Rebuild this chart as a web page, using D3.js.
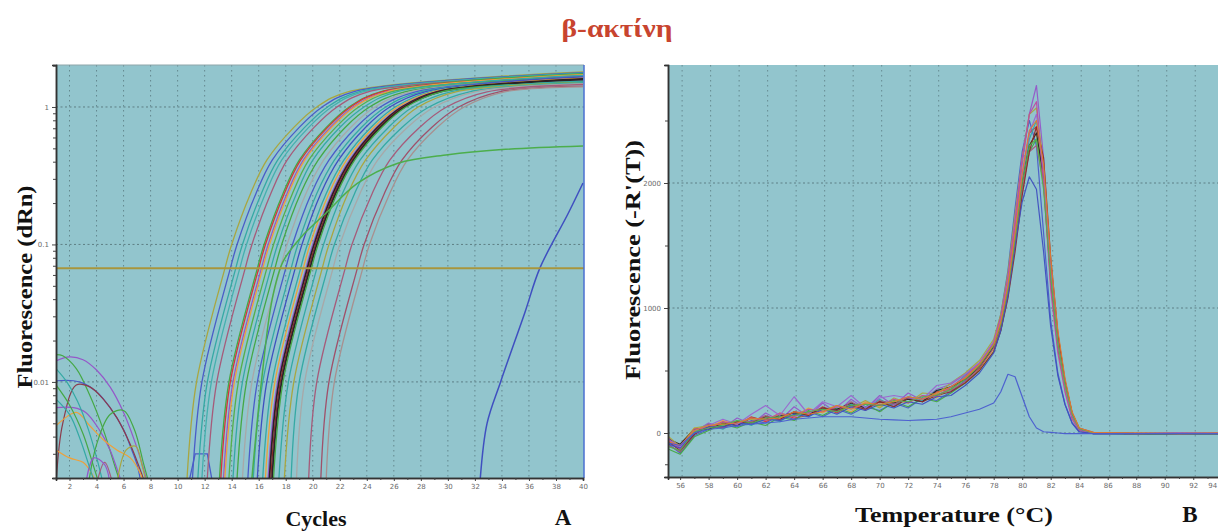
<!DOCTYPE html>
<html>
<head>
<meta charset="utf-8">
<script src="https://cdn.jsdelivr.net/npm/d3@7"></script>
<style>
body { margin: 0; background: #fff; }
.tick text { font-family: "DejaVu Sans", sans-serif; font-size: 7px; fill: #6a6a6a; }
.lab { font-family: "Liberation Serif", serif; font-weight: bold; fill: #111; }
</style>
</head>
<body>
<svg id="chart"></svg>
<script>
const W = 1218, H = 532,
  plotBg = "#92c5cd",
  gridColor = "#55747a";

// ---- panel A : amplification plot ----
const cycleTicks = [2,4,6,8,10,12,14,16,18,20,22,24,26,28,30,32,34,36,38,40];
const cycleMinor = [3,5,7,9,11,13,15,17,19,21,23,25,27,29,31,33,35,37,39];
const dRnTicks = [0.01, 0.1, 1];
const threshold = 0.067;

// fluorescence levels, and the cycle at which each curve reaches them
const ampLevels = [0.002, 0.01, 0.067, 0.1, 0.235, 0.41, 0.71, 1.0, 1.29];
const ampCycles = [
  [10.7, 11.4, 13.5, 14.0, 15.4, 16.6, 18.6, 20.3, 22.6],
  [11.1, 11.8, 13.9, 14.4, 15.8, 17.0, 19.0, 20.7, 23.0],
  [11.5, 12.2, 14.3, 14.8, 16.2, 17.4, 19.4, 21.1, 23.4],
  [11.8, 12.5, 14.6, 15.1, 16.5, 17.7, 19.7, 21.4, 23.7],
  [12.2, 12.9, 15.0, 15.5, 16.9, 18.1, 20.1, 21.8, 24.1],
  [13.1, 13.8, 15.9, 16.4, 17.8, 19.0, 21.0, 22.7, 25.0],
  [13.2, 13.9, 16.0, 16.5, 17.9, 19.1, 21.1, 22.8, 25.1],
  [13.4, 14.1, 16.2, 16.7, 18.1, 19.3, 21.3, 23.0, 25.4],
  [13.5, 14.2, 16.3, 16.8, 18.2, 19.4, 21.4, 23.1, 25.5],
  [13.8, 14.5, 16.6, 17.1, 18.5, 19.7, 21.7, 23.4, 25.8],
  [14.1, 14.8, 16.9, 17.4, 18.8, 20.0, 22.0, 23.8, 26.2],
  [14.4, 15.1, 17.2, 17.7, 19.1, 20.4, 22.4, 24.2, 26.8],
  [14.8, 15.5, 17.6, 18.1, 19.5, 20.8, 22.8, 24.6, 27.2],
  [15.2, 15.9, 18.0, 18.5, 19.9, 21.2, 23.2, 25.0, 27.6],
  [15.6, 16.3, 18.4, 18.9, 20.3, 21.6, 23.6, 25.4, 28.0],
  [15.9, 16.6, 18.7, 19.2, 20.6, 21.9, 23.9, 25.7, 28.3],
  [16.3, 17.0, 19.1, 19.6, 21.0, 22.3, 24.3, 26.1, 28.7],
  [16.5, 17.2, 19.3, 19.8, 21.2, 22.5, 24.5, 26.3, 28.9],
  [16.7, 17.4, 19.5, 20.0, 21.4, 22.7, 24.7, 26.5, 29.1],
  [16.8, 17.5, 19.6, 20.1, 21.5, 22.8, 24.8, 26.6, 29.2],
  [16.9, 17.6, 19.7, 20.2, 21.6, 22.9, 24.9, 26.7, 29.3],
  [17.0, 17.7, 19.8, 20.3, 21.7, 23.0, 25.0, 26.8, 29.4],
  [17.1, 17.8, 19.9, 20.4, 21.8, 23.1, 25.1, 26.9, 29.5],
  [17.5, 18.2, 20.3, 20.8, 22.2, 23.5, 25.6, 27.4, 30.2],
  [17.9, 18.6, 20.7, 21.2, 22.6, 23.9, 26.0, 27.8, 30.6],
  [18.4, 19.0, 21.1, 21.6, 23.1, 24.4, 26.6, 28.6, 31.6],
  [18.8, 19.4, 21.5, 22.0, 23.5, 24.8, 27.0, 29.0, 32.0],
  [19.7, 20.3, 22.4, 22.9, 24.4, 25.7, 27.9, 29.9, 32.9],
  [20.6, 21.2, 23.3, 23.8, 25.3, 26.6, 28.8, 30.8, 33.8],
  [21.0, 21.6, 23.7, 24.2, 25.7, 27.0, 29.2, 31.2, 34.2]
];
const ampEnd = [1.80, 1.78, 1.76, 1.74, 1.72, 1.75, 1.70, 1.68, 1.72, 1.66,
  1.70, 1.65, 1.62, 1.66, 1.60, 1.64, 1.58, 1.62, 1.56, 1.60,
  1.55, 1.58, 1.52, 1.54, 1.50, 1.50, 1.48, 1.46, 1.42, 1.40];
const ampColors = ["#a9a640", "#4a5cc8", "#35a9a4", "#45b0ae", "#a65b7a", "#45a845", "#d8333a", "#9557c9", "#eea13a", "#55b04a",
  "#35a9a4", "#45a845", "#a8a8a8", "#4a5cc8", "#35a9a4", "#3f4fc0", "#35a9a4", "#eea13a", "#9557c9", "#2b2226",
  "#8c2b2b", "#2b2226", "#45a845", "#35a9a4", "#a9a640", "#35a9a4", "#a8a8a8", "#a65b7a", "#a0506a", "#a89090"];

// odd curves: a weak one that plateaus low and a very late one
const ampWeak = [[15.5,0.002],[16.2,0.01],[17.0,0.04],[17.8,0.075],[19.1,0.112],[21,0.17],[23.3,0.278],[26.3,0.39],[30,0.45],[34,0.49],[40,0.52]];
const ampLate = [[32.4,0.002],[32.9,0.005],[33.9,0.01],[35.7,0.032],[36.8,0.067],[38.9,0.168],[40,0.28]];
const ampBump = [[10.8,0.0018],[11.3,0.003],[12.2,0.003],[12.6,0.0018]];

// early-cycle noise traces
const noiseA = [
  [[1,0.0142],[2,0.0152],[3,0.0145],[4,0.0122],[5,0.0092],[6,0.006],[7,0.0033],[7.8,0.0018]],
  [[1,0.0158],[1.5,0.0155],[2.5,0.0125],[3.5,0.008],[4.5,0.0045],[5.5,0.0022],[5.8,0.0018]],
  [[1,0.0102],[2.3,0.0102],[3,0.0098],[4,0.0085],[5,0.0065],[6,0.0045],[6.5,0.0034],[7,0.0025],[7.3,0.0018]],
  [[1,0.0018],[1.5,0.005],[2.5,0.0095],[3.5,0.0092],[4.5,0.0075],[5.5,0.0055],[6.5,0.0035],[7.3,0.0022],[7.6,0.0018]],
  [[1,0.0065],[2.3,0.0065],[3.2,0.006],[4.2,0.0045],[5,0.0032],[5.6,0.0022],[5.9,0.0018]],
  [[1,0.0048],[2.5,0.006],[3.5,0.0048],[4.5,0.0038],[5.5,0.0032],[6.5,0.0028],[7.2,0.0022],[7.5,0.0018]],
  [[1,0.0125],[1.8,0.01],[2.6,0.0072],[3.4,0.0045],[4.1,0.0026],[4.5,0.0018]],
  [[1,0.0095],[2,0.0068],[3,0.0042],[3.8,0.0024],[4.2,0.0018]],
  [[3.4,0.0018],[4,0.0035],[5,0.0058],[6,0.0062],[6.8,0.0045],[7.5,0.0025],[7.9,0.0018]],
  [[1,0.0032],[2,0.0028],[3,0.0026],[3.6,0.0022],[4,0.0018]],
  [[4,0.0018],[4.6,0.0026],[5.2,0.0018]],
  [[3.2,0.0018],[3.8,0.0028],[4.6,0.0025],[5,0.0018]],
  [[1,0.0075],[2,0.0058],[2.8,0.0038],[3.6,0.0022],[3.9,0.0018]],
  [[5.5,0.0018],[6.2,0.0032],[6.9,0.0034],[7.4,0.0024],[7.7,0.0018]]
];
const noiseColors = ["#9557c9", "#45a845", "#4a5cc8", "#8c3b4b", "#9557c9", "#eea13a", "#35a9a4", "#45a845",
  "#45a845", "#eea13a", "#a65b7a", "#9557c9", "#35a9a4", "#a9a640"];

// ---- panel B : melt curves ----
const tempTicks = [56,58,60,62,64,66,68,70,72,74,76,78,80,82,84,86,88,90,92,94];
const tempMinor = [57,59,61,63,65,67,69,71,73,75,77,79,81,83,85,87,89,91,93];
const derivTicks = [0, 1000, 2000];
const derivMinor = [-250, 500, 1500, 2500];

const temps = [55.2,56,57,58,59,60,61,62,63,64,65,66,67,68,69,70,71,72,73,74,75,76,77,78,78.5,79,79.5,80,80.5,81,81.5,82,82.5,83,83.5,84,85,88,91,95];
const melt = [
  [-40,-120,10,80,40,120,70,160,100,210,130,240,160,270,190,300,220,320,260,350,390,470,560,720,900,1200,1650,2150,2550,2780,2200,1300,720,380,140,30,0,-5,0,-5],
  [-90,-160,-20,30,70,50,100,80,140,110,170,130,190,150,210,180,240,200,280,260,330,420,540,720,950,1300,1800,2250,2500,2300,1600,900,480,230,80,10,-5,-5,-5,-5],
  [-50,-110,30,50,90,60,130,90,150,120,140,210,160,230,190,250,210,280,250,330,350,440,530,700,880,1180,1600,2050,2400,2450,2000,1200,680,360,130,25,0,-5,0,-5],
  [-130,-170,-30,20,70,40,90,60,130,100,180,140,200,160,230,170,250,210,280,250,320,400,500,650,820,1100,1500,1950,2250,2350,2050,1300,750,400,150,35,0,-10,-5,-5],
  [-60,-100,40,40,100,70,120,100,160,130,200,160,220,170,250,210,260,240,300,280,370,430,510,670,840,1120,1500,1950,2300,2400,2150,1350,800,420,160,40,0,0,-5,0],
  [-80,-130,0,70,30,100,60,130,90,170,130,200,170,230,190,270,210,280,260,340,360,460,550,710,880,1150,1550,2000,2350,2500,2100,1250,700,370,130,25,0,-5,0,-5],
  [-50,-90,30,30,80,60,120,110,140,160,150,200,190,240,200,250,240,270,250,340,370,430,520,690,860,1150,1550,2000,2300,2400,2050,1250,700,380,140,30,-5,-5,-5,-5],
  [-100,-150,-10,70,40,90,90,140,100,170,160,200,170,250,180,260,230,290,270,310,340,410,520,680,850,1130,1520,1950,2250,2300,2000,1300,760,410,160,40,5,0,-5,0],
  [-30,-110,40,60,80,90,110,100,150,140,190,180,220,200,260,200,280,240,320,310,400,480,580,750,950,1280,1750,2200,2550,2600,2150,1250,700,360,120,20,0,-5,0,-5],
  [-70,-140,-10,50,50,90,80,130,110,170,140,200,180,220,190,250,210,280,250,300,330,400,500,650,820,1080,1450,1900,2250,2450,2200,1400,800,420,160,35,0,-5,-5,-5],
  [-60,-130,30,40,90,70,120,100,160,130,190,170,210,200,230,220,270,240,300,290,370,450,560,730,930,1250,1700,2200,2550,2650,2000,1150,640,330,110,20,0,-5,0,-5],
  [-90,-120,0,50,50,80,70,110,100,150,130,190,150,210,180,230,200,250,230,290,300,380,480,640,820,1100,1500,1850,2050,1950,1450,850,460,230,80,10,-5,-5,-5,-5],
  [-50,-110,20,60,110,70,150,220,140,290,150,250,210,300,200,280,300,280,270,380,400,470,560,730,900,1200,1600,2050,2400,2550,2100,1300,720,380,140,30,0,-5,0,-5],
  [-110,-140,10,40,60,100,80,120,130,140,170,190,170,220,230,220,260,250,290,300,350,430,540,700,870,1150,1550,2000,2300,2350,1950,1250,720,390,150,35,0,-5,-5,-5],
  [-70,-100,20,60,70,80,120,110,120,170,150,170,220,190,240,230,250,290,270,320,370,440,550,710,890,1180,1600,2080,2420,2500,2150,1400,820,440,170,40,5,0,-5,0],
  [-80,-100,0,30,40,60,70,80,90,110,120,130,130,130,120,110,105,100,105,110,130,160,190,240,330,470,450,290,130,40,10,5,0,-5,-5,-5,-5,-5,-5,-5]
];
const meltColors = ["#9557c9", "#4a5cc8", "#d8333a", "#45a845", "#eea13a", "#35a9a4", "#2b2226", "#a65b7a",
  "#a9a640", "#8c2b2b", "#c04aa0", "#3f4fc0", "#9a66d0", "#55b04a", "#e07a30", "#4a5cd0"];

// ---- scales ----
const xA = d3.scaleLinear().domain([1, 40]).range([56, 583]);
const yA = d3.scaleLog().domain([0.002, 2.02]).range([478, 65]);
const xB = d3.scaleLinear().domain([55.15, 95]).range([668, 1236]);
const yB = d3.scaleLinear().domain([-352, 2944]).range([477, 65]);

const svg = d3.select("#chart")
  .attr("width", W)
  .attr("height", H)
  .attr("viewBox", [0, 0, W, H]);

svg.append("rect").attr("width", W).attr("height", H).attr("fill", "#fff");

const defs = svg.append("defs");
defs.append("clipPath").attr("id", "clipA").append("rect")
  .attr("x", 56).attr("y", 65).attr("width", 528).attr("height", 413);
defs.append("clipPath").attr("id", "clipB").append("rect")
  .attr("x", 668).attr("y", 65).attr("width", W - 668).attr("height", 412);

// ---- panel A ----
const gA = svg.append("g");
gA.append("rect").attr("x", 56).attr("y", 65).attr("width", 528).attr("height", 413).attr("fill", plotBg);

gA.append("g").selectAll("line").data(cycleTicks.filter(d => d < 40)).join("line")
  .attr("x1", d => xA(d)).attr("x2", d => xA(d))
  .attr("y1", 65).attr("y2", 478)
  .attr("stroke", gridColor).attr("stroke-width", 1).attr("stroke-dasharray", "1.5,3.5").attr("opacity", 0.75);
gA.append("g").selectAll("line").data(dRnTicks).join("line")
  .attr("x1", 56).attr("x2", 584)
  .attr("y1", d => yA(d)).attr("y2", d => yA(d))
  .attr("stroke", gridColor).attr("stroke-width", 1).attr("stroke-dasharray", "2,2.5").attr("opacity", 0.85);

const lineA = d3.line().x(d => xA(d[0])).y(d => yA(Math.max(d[1], 0.0015))).curve(d3.curveCatmullRom.alpha(0.5));
const plotA = gA.append("g").attr("clip-path", "url(#clipA)");

plotA.selectAll("path.noise").data(noiseA).join("path")
  .attr("class", "noise")
  .attr("d", lineA)
  .attr("fill", "none")
  .attr("stroke", (d, i) => noiseColors[i])
  .attr("stroke-width", 1.2);

plotA.append("path").datum(ampBump).attr("d", d3.line().x(d => xA(d[0])).y(d => yA(d[1])))
  .attr("fill", "none").attr("stroke", "#4a5cc8").attr("stroke-width", 1.3);

const ampSeries = ampCycles.map((cs, i) => cs.map((c, j) => [c, ampLevels[j]]).concat([[40, ampEnd[i]]]));
plotA.selectAll("path.amp").data(ampSeries).join("path")
  .attr("class", "amp")
  .attr("d", lineA)
  .attr("fill", "none")
  .attr("stroke", (d, i) => ampColors[i])
  .attr("stroke-width", (d, i) => ampColors[i] === "#2b2226" ? 1.8 : 1.3);

plotA.append("path").datum(ampWeak).attr("d", lineA)
  .attr("fill", "none").attr("stroke", "#4cae4c").attr("stroke-width", 1.5);
plotA.append("path").datum(ampLate).attr("d", lineA)
  .attr("fill", "none").attr("stroke", "#3f4fc0").attr("stroke-width", 1.5);

plotA.append("line")
  .attr("x1", 56).attr("x2", 584)
  .attr("y1", yA(threshold)).attr("y2", yA(threshold))
  .attr("stroke", "#a8963c").attr("stroke-width", 2);

// frame
gA.append("line").attr("x1", 56).attr("x2", 584).attr("y1", 65).attr("y2", 65).attr("stroke", "#8fa6aa");
gA.append("line").attr("x1", 584).attr("x2", 584).attr("y1", 65).attr("y2", 478).attr("stroke", "#4a6fd0").attr("stroke-width", 1.5);

gA.append("g").attr("transform", "translate(0,478)")
  .call(d3.axisBottom(xA).tickValues(cycleTicks).tickSize(3).tickFormat(d3.format("d")));
gA.append("g").attr("transform", "translate(0,478)")
  .call(d3.axisBottom(xA).tickValues(cycleMinor).tickSize(2).tickFormat(""));
gA.append("g").attr("transform", "translate(56,0)")
  .call(d3.axisLeft(yA).tickValues(dRnTicks).tickSize(4).tickFormat(d => d >= 1 ? "1" : String(d)));
gA.append("g").attr("transform", "translate(56,0)")
  .call(d3.axisLeft(yA).tickValues(yA.ticks().filter(t => !dRnTicks.includes(t))).tickSize(3).tickFormat(""));

// ---- panel B ----
const gB = svg.append("g");
gB.append("rect").attr("x", 668).attr("y", 65).attr("width", W - 668).attr("height", 412).attr("fill", plotBg);

gB.append("g").selectAll("line").data(tempTicks).join("line")
  .attr("x1", d => xB(d) + 2).attr("x2", d => xB(d) + 2)
  .attr("y1", 65).attr("y2", 477)
  .attr("stroke", gridColor).attr("stroke-width", 1).attr("stroke-dasharray", "1.5,3.5").attr("opacity", 0.7);
gB.append("g").selectAll("line").data(derivTicks).join("line")
  .attr("x1", 668).attr("x2", W)
  .attr("y1", d => yB(d)).attr("y2", d => yB(d))
  .attr("stroke", gridColor).attr("stroke-width", 1).attr("stroke-dasharray", "2,2.5").attr("opacity", 0.85);

const lineB = d3.line().x((d, i) => xB(temps[i])).y(d => yB(d)).curve(d3.curveLinear);
gB.append("g").attr("clip-path", "url(#clipB)")
  .selectAll("path").data(melt).join("path")
  .attr("d", lineB)
  .attr("fill", "none")
  .attr("stroke", (d, i) => meltColors[i])
  .attr("stroke-width", 1.2)
  .attr("stroke-linejoin", "round")
  .attr("opacity", 0.95);

const axB = gB.append("g").attr("transform", "translate(0,477)")
  .call(d3.axisBottom(xB).tickValues(tempTicks).tickSize(3).tickFormat(d3.format("d")));
// last label sits on the page edge: pull it inside
axB.selectAll(".tick text").filter(d => d === 94).attr("text-anchor", "end").attr("dx", "-5");
gB.append("g").attr("transform", "translate(0,477)")
  .call(d3.axisBottom(xB).tickValues(tempMinor).tickSize(2).tickFormat(""));
gB.append("g").attr("transform", "translate(668,0)")
  .call(d3.axisLeft(yB).tickValues(derivTicks).tickSize(4).tickFormat(d3.format("d")));
gB.append("g").attr("transform", "translate(668,0)")
  .call(d3.axisLeft(yB).tickValues(derivMinor).tickSize(3).tickFormat(""));

svg.selectAll(".domain").attr("stroke", "#333").attr("stroke-width", 1.5);
svg.selectAll(".tick line").attr("stroke", "#444");

// ---- texts ----
svg.append("text")
  .attr("x", 617).attr("y", 37)
  .attr("text-anchor", "middle")
  .attr("font-family", "Liberation Serif, serif")
  .attr("font-weight", "bold")
  .attr("font-size", 25)
  .attr("textLength", 111).attr("lengthAdjust", "spacingAndGlyphs")
  .attr("fill", "#c8442f")
  .text("β-ακτίνη");

svg.append("text").attr("class", "lab")
  .attr("transform", "translate(32,287) rotate(-90)")
  .attr("text-anchor", "middle")
  .attr("font-size", 21)
  .attr("textLength", 203).attr("lengthAdjust", "spacingAndGlyphs")
  .text("Fluorescence (dRn)");

svg.append("text").attr("class", "lab")
  .attr("transform", "translate(640,260) rotate(-90)")
  .attr("text-anchor", "middle")
  .attr("font-size", 21)
  .attr("textLength", 240).attr("lengthAdjust", "spacingAndGlyphs")
  .text("Fluorescence (-R'(T))");

svg.append("text").attr("class", "lab")
  .attr("x", 316).attr("y", 526)
  .attr("text-anchor", "middle").attr("font-size", 22)
  .text("Cycles");
svg.append("text").attr("class", "lab")
  .attr("x", 563).attr("y", 525)
  .attr("text-anchor", "middle").attr("font-size", 23)
  .text("A");
svg.append("text").attr("class", "lab")
  .attr("x", 954).attr("y", 522)
  .attr("text-anchor", "middle").attr("font-size", 22)
  .attr("textLength", 198).attr("lengthAdjust", "spacingAndGlyphs")
  .text("Temperature (°C)");
svg.append("text").attr("class", "lab")
  .attr("x", 1190).attr("y", 522)
  .attr("text-anchor", "middle").attr("font-size", 23)
  .text("B");
</script>
</body>
</html>
